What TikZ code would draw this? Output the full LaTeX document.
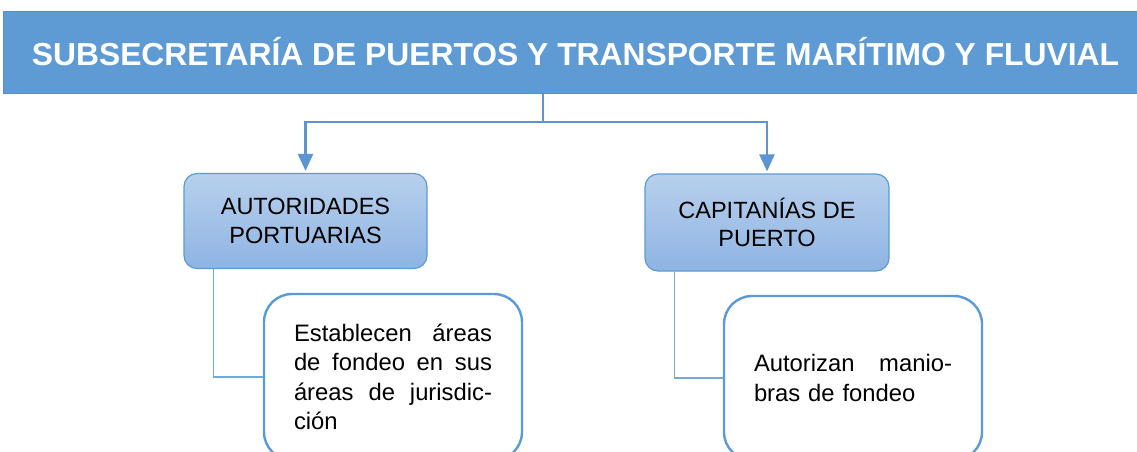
\documentclass[tikz,border=0pt]{standalone}
\usepackage{fontspec}
\setmainfont{Liberation Sans}
\usetikzlibrary{arrows.meta}
\definecolor{bannerblue}{HTML}{5E9BD5}
\definecolor{bannerline}{HTML}{5690CB}
\definecolor{linkblue}{HTML}{5B95D2}
\definecolor{edgeblue}{HTML}{5B9BD5}
\definecolor{boxtop}{HTML}{B8D0EC}
\definecolor{boxbot}{HTML}{8EB4E3}
\newcommand{\jline}[1]{{\spaceskip=0.278em plus 10em\makebox[198pt][s]{#1}}}
\begin{document}
\begin{tikzpicture}[x=1pt,y=-1pt,
  banner/.style={fill=bannerblue,draw=bannerline,line width=1pt,minimum width=1145pt,minimum height=82pt,
    inner sep=0pt,text=white,font=\fontsize{31.8}{36}\selectfont\bfseries},
  upbox/.style={rounded corners=13pt,draw=edgeblue,line width=1.2pt,top color=boxtop,bottom color=boxbot,
    align=center,inner sep=0pt,font=\fontsize{23.5}{28.5}\selectfont},
  lowbox/.style={rounded corners=28pt,draw=edgeblue,line width=2.4pt,fill=white,text width=198pt,
    inner xsep=30pt,inner ysep=0pt,minimum width=258pt,align=left,font=\fontsize{23.8}{29.5}\selectfont},
  topline/.style={draw=linkblue,line width=2.4pt},
  sideline/.style={draw=edgeblue!85,line width=1.3pt},
  tip/.style={-{Triangle[length=17pt,width=15pt]},shorten >=2pt}
]
\useasboundingbox (0,0) rectangle (1137,451);
\node[banner] (banner) at (575.5,52) {SUBSECRETARÍA DE PUERTOS Y TRANSPORTE MARÍTIMO Y FLUVIAL};
\node[upbox,minimum width=243pt,minimum height=95pt] (ub1) at (305.5,221) {AUTORIDADES\\PORTUARIAS};
\node[upbox,minimum width=244pt,minimum height=97pt] (ub2) at (767,222.5) {CAPITANÍAS DE\\PUERTO};
\node[lowbox,minimum height=166pt] (lb1) at (393,377)
  {\jline{Establecen áreas}\\\jline{de fondeo en sus}\\\jline{áreas de jurisdic-}\\ción};
\node[lowbox,minimum height=164pt] (lb2) at (853,378)
  {\jline{Autorizan manio-}\\bras de fondeo};
\coordinate (split) at (543,122);
\draw[topline] (banner.south -| split) -- (split);
\draw[topline,tip] (split) -| (ub1.north);
\draw[topline,tip] (split) -| (ub2.north);
\draw[sideline] ([xshift=30pt]ub1.south west) |- (lb1.west);
\draw[sideline] ([xshift=30pt]ub2.south west) |- (lb2.west);
\end{tikzpicture}
\end{document}
